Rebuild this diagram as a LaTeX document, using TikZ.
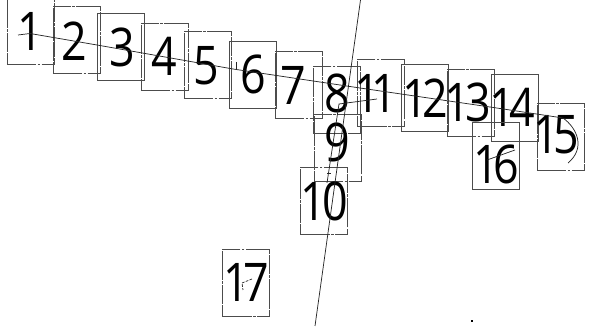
\documentclass[tikz,border=0pt]{standalone}
\usepackage{fontspec}
\setmainfont{Open Sans}[FakeStretch=0.84]
\newcommand\nudged[3]{\hspace*{#1}\raisebox{#2}[\height][\depth]{#3}\hspace*{-#1}}
\begin{document}
\begin{tikzpicture}[x=0.75pt,y=-0.75pt,line width=0.45pt,
   cell/.style={draw=black!70,minimum width=35.5pt,minimum height=50.5pt,inner sep=0pt,text=black,font=\fontsize{40}{40}\selectfont},
   broken/.style={cell,dash pattern=on 22pt off 1pt on 2pt off 1pt on 14pt off 1pt},
   trace/.style={black!85,line width=0.55pt}]
  \useasboundingbox (0,0) rectangle (589,327);
  \begin{scope}
  \clip (0,0) rectangle (589,327);
  \node[broken] (n1) at (30.5,30.5) {\nudged{0pt}{-1pt}{1}};
  \node[broken] (n2) at (76.5,39.5) {\nudged{-2pt}{-1pt}{2}};
  \node[cell] (n3) at (120.5,46.5) {\nudged{1pt}{-1pt}{3}};
  \node[broken] (n4) at (164.5,56.5) {4};
  \node[broken] (n5) at (207.5,64.5) {\nudged{-1pt}{-1pt}{5}};
  \node[cell] (n6) at (253,74.5) {6};
  \node[broken] (n7) at (298.5,84.5) {\nudged{-4pt}{-1pt}{7}};
  \node[broken] (n8) at (337,99.5) {\nudged{0pt}{4.5pt}{8}};
  \node[broken] (n9) at (337.5,148) {\nudged{0pt}{4.5pt}{9}};
  \node[broken] (n10) at (324,201) {1\kern-3pt 0};
  \node[broken] (n11) at (381,93) {\nudged{-4pt}{0pt}{1\kern-6pt 1}};
  \node[cell] (n12) at (425,98) {1\kern-4pt 2};
  \node[broken] (n13) at (470.5,102.5) {\nudged{-2pt}{0pt}{1\kern-4pt 3}};
  \node[cell] (n14) at (515,107.5) {\nudged{-2pt}{0pt}{1\kern-4pt 4}};
  \node[broken] (n15) at (560.5,136.5) {\nudged{-3pt}{1pt}{1\kern-4pt 5}};
  \node[cell] (n16) at (496,156) {\nudged{0pt}{-6pt}{1\kern-4pt 6}};
  \node[broken] (n17) at (246,282.5) {1\kern-4pt 7};
  \end{scope}
  % long trace through the row
  \coordinate (rowstart) at (18,35);
  \coordinate (rowa) at (30,33.5);
  \coordinate (rowb) at (97,45);
  \coordinate (rowc) at (233,69);
  \coordinate (rowd) at (360,88);
  \coordinate (rowe) at (490,107);
  \coordinate (rowf) at (563,118);
  \coordinate (rowend) at (568,163);
  \draw[trace] (rowstart) -- (rowa) -- (rowb) -- (rowc) -- (rowd) -- (rowe) -- (rowf)
     .. controls (577,128) and (586,148) .. (rowend);
  % steep trace
  \coordinate (steeptop) at (360.5,0);
  \coordinate (steepend) at (315,326);
  \draw[trace] (steeptop) -- (steepend);
  \coordinate (branch) at (339,104);
  \coordinate (brancha) at (377,99);
  \coordinate (branchb) at (327,183);
  \draw[trace] (brancha) -- (branch) -- (branchb);
  \coordinate (ticka) at (236,62);
  \coordinate (tickb) at (236,70);
  \draw[trace] (ticka) -- (tickb);
  \coordinate (ninea) at (327,173);
  \coordinate (nineb) at (331,173);
  \draw[trace] (ninea) -- (nineb);
  \coordinate (sixa) at (487,160);
  \coordinate (sixb) at (515,150);
  \draw[trace] (sixa) -- (sixb);
  \coordinate (sevena) at (252,279);
  \coordinate (sevenb) at (242,283);
  \coordinate (sevenc) at (243,290);
  \draw[trace,dash pattern=on 2pt off 1pt] (sevena) -- (sevenb) -- (sevenc);
  \node[fill=black,inner sep=0.6pt] (speck) at (472,321) {};
\end{tikzpicture}
\end{document}
